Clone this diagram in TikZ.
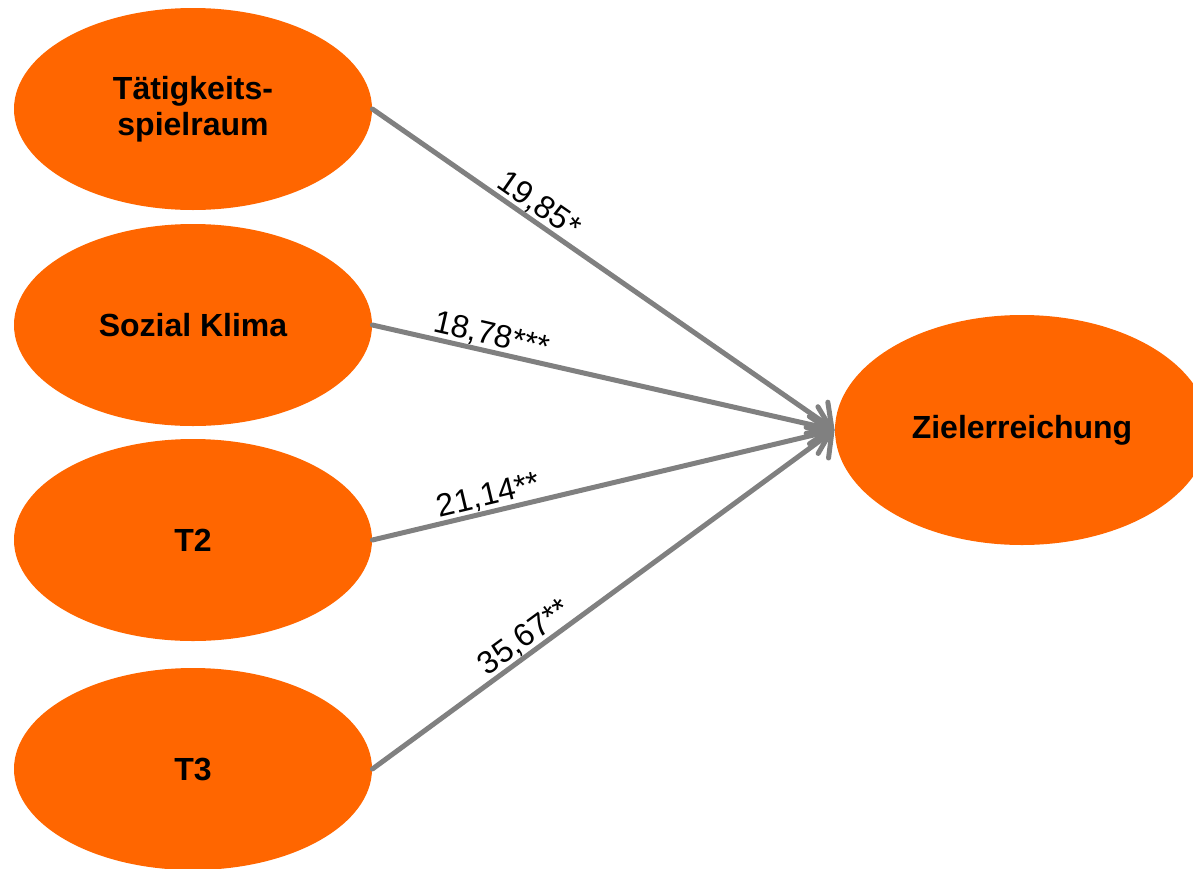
\documentclass[tikz,border=0pt]{standalone}
\usepackage{fontspec}
\setmainfont{Liberation Sans}
\usetikzlibrary{arrows.meta,shapes.geometric}
\definecolor{zielOrange}{HTML}{FF6600}
\definecolor{zielGray}{HTML}{808080}
\tikzset{
  factor/.style={
    ellipse,
    fill=zielOrange,
    draw=none,
    inner sep=0pt,
    minimum width=179pt,
    minimum height=101pt,
    align=center,
    font=\fontsize{16}{18}\selectfont\bfseries
  },
  outcome/.style={
    factor,
    minimum width=187pt,
    minimum height=115pt
  },
  effect/.style={
    -{Straight Barb[length=9pt,width=19pt,line cap=round]},
    line width=2.5pt,
    line cap=round,
    draw=zielGray
  },
  coef/.style={
    sloped,
    above,
    inner sep=0pt,
    font=\fontsize{16}{18}\selectfont,
    text=black
  }
}

\begin{document}
\begin{tikzpicture}[x=0.5pt,y=-0.5pt]

\useasboundingbox (0,0) rectangle (1193,868);
\clip (0,0) rectangle (1193,868);

\node[factor] (taet) at (193,109) {Tätigkeits-\\spielraum};
\node[factor] (klima) at (193,325) {Sozial Klima};
\node[factor] (tzwei) at (193,540) {T2};
\node[factor] (tdrei) at (193,769) {T3};

\node[outcome] (ziel) at (1022,430) {Zielerreichung};

\draw[effect] (taet.east) -- node[coef, pos=0.34] {19,85*} (ziel.west);
\draw[effect] (klima.east) -- node[coef, pos=0.25] {18,78***} (ziel.west);
\draw[effect] (tzwei.east) -- node[coef, pos=0.26] {21,14**} (ziel.west);
\draw[effect] (tdrei.east) -- node[coef, pos=0.35] {35,67**} (ziel.west);

\end{tikzpicture}
\end{document}
